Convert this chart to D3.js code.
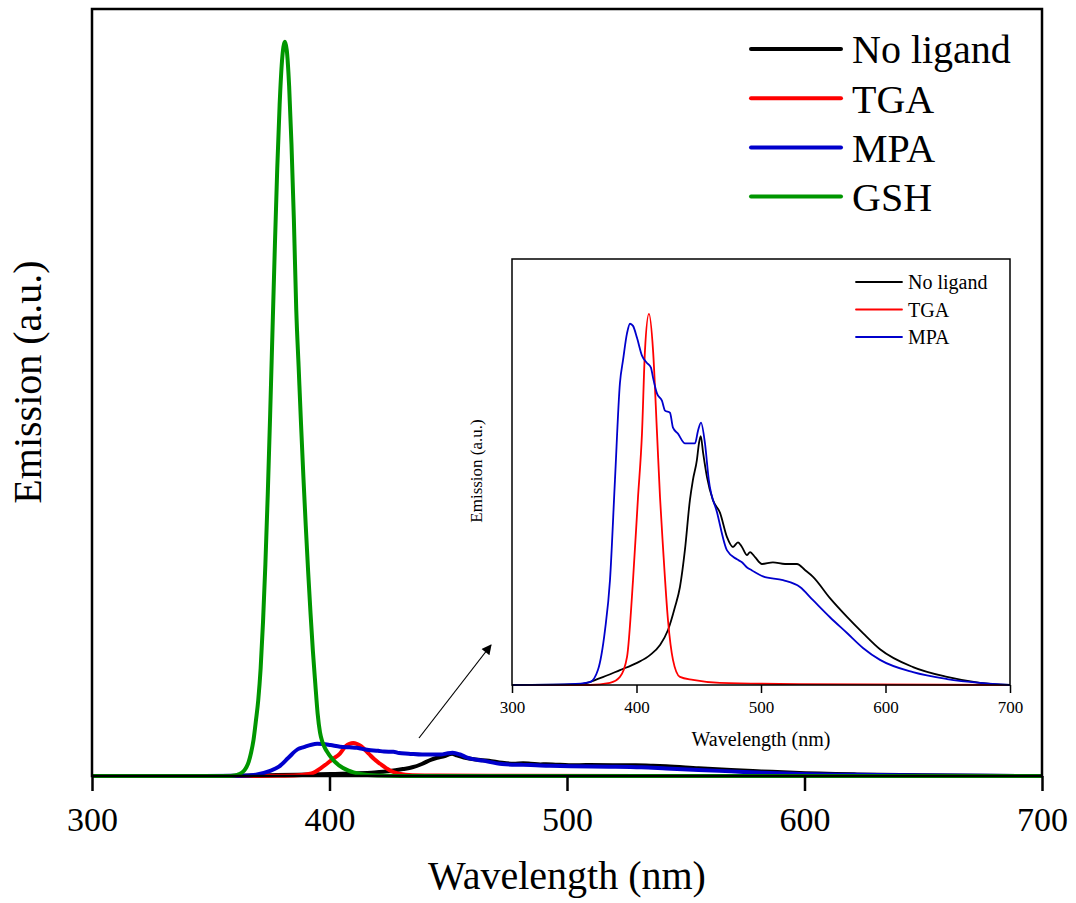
<!DOCTYPE html>
<html>
<head>
<meta charset="utf-8">
<script src="https://cdn.jsdelivr.net/npm/d3@7/dist/d3.min.js"></script>
<style>
  body { margin: 0; background: #fff; }
  svg { display: block; font-family: "Liberation Serif", "Times New Roman", serif; }
</style>
</head>
<body>
<svg id="chart" width="1076" height="903"></svg>
<script>
// emission spectra, wavelength (nm) / intensity (a.u.)
var wlNoLigand = [300, 354.6, 370.7, 386.7, 400.4, 410.8, 418.9, 425.3, 430.9, 434.9, 438.9, 442.9, 445.3, 448.5, 450.2, 451.6, 453.5, 456.6, 461.4, 467.1, 472.7, 477.5, 481.5, 484.7, 488.8, 491.2, 495.2, 500.8, 509.6, 519.3, 528.9, 535.3, 541.8, 555.4, 569.1, 581.9, 595.6, 622.1, 649.4, 675.9, 700];
var noLigand = [0, 2, 16, 35, 52, 70, 94, 129, 183, 230, 317, 434, 481, 528, 568, 584, 545, 488, 434, 404, 347, 324, 335, 324, 305, 312, 300, 284, 288, 284, 284, 270, 254, 204, 160, 122, 84, 42, 19, 5, 0];

var wlTGA = [300, 362.7, 378.7, 386.7, 392.4, 397.2, 401.2, 404.4, 406.8, 410, 413.3, 416.5, 418.9, 421.3, 425.3, 429.3, 434.9, 445.4, 467, 531.3, 700];
var tga = [0, 0, 5, 19, 66, 246, 440, 590, 785, 871, 785, 590, 440, 323, 152, 59, 19, 12, 5, 2, 0];

var wlMPA = [300, 346.6, 362.7, 369, 374.7, 378.7, 382.7, 386.7, 389.2, 392.4, 394.8, 397.2, 400.4, 404.4, 408.4, 411.6, 413.3, 416.5, 420.5, 422.9, 426.9, 429.3, 433.3, 439, 447, 449.4, 451.8, 455, 458, 464.7, 472.7, 480.7, 484.7, 488.8, 492.8, 501.6, 517.7, 531.3, 541.8, 555.4, 569.1, 581.9, 595.6, 622.1, 649.4, 675.9, 700];
var mpa = [0, 2, 7, 35, 129, 246, 481, 709, 763, 826, 848, 843, 815, 773, 756, 745, 721, 684, 667, 644, 639, 604, 590, 567, 567, 597, 616, 567, 483, 405, 316, 295, 288, 276, 269, 255, 246, 230, 199, 159, 122, 87, 59, 30, 14, 5, 0];

var wlGSH = [300, 357, 360, 362, 364, 365, 366, 367, 368, 369, 370, 371, 372, 373, 374, 375, 376, 377, 378, 379, 380, 381.2, 382, 383, 384, 385, 386, 387, 388, 389, 390, 391, 392, 393, 394, 395, 396, 397, 398, 399, 401, 404, 408, 413, 420, 430, 700];
var gsh = [0, 0, 15, 50, 140, 230, 380, 620, 950, 1450, 2000, 2830, 4050, 5580, 7420, 9510, 11750, 13980, 16030, 17700, 18860, 19365, 19150, 18200, 16650, 14670, 12300, 10800, 9300, 7900, 6600, 5400, 4300, 3300, 2450, 1650, 1150, 900, 750, 640, 460, 280, 140, 53, 10, 0, 0];

var xTicks = [300, 400, 500, 600, 700];
var names = ["No ligand", "TGA", "MPA", "GSH"];
var colors = ["#000000", "#ff0000", "#0000cc", "#009600"];

var series = [
  {name: names[0], color: colors[0], wl: wlNoLigand, v: noLigand},
  {name: names[1], color: colors[1], wl: wlTGA, v: tga},
  {name: names[2], color: colors[2], wl: wlMPA, v: mpa},
  {name: names[3], color: colors[3], wl: wlGSH, v: gsh}
];

var svg = d3.select("#chart");

function panel(opt) {
  var x = d3.scaleLinear().domain([300, 700]).range([opt.x0, opt.x1]);
  var y = d3.scaleLinear().domain([0, opt.ymax]).range([opt.y1, opt.y0]);
  var g = svg.append("g");
  var line = d3.line()
    .x(function(d) { return x(d[0]); })
    .y(function(d) { return y(d[1]); })
    .curve(d3.curveMonotoneX);

  opt.series.forEach(function(s) {
    var pts = s.wl.map(function(w, i) { return [w, s.v[i]]; });
    g.append("path").datum(pts)
      .attr("d", line)
      .attr("fill", "none")
      .attr("stroke", s.color)
      .attr("stroke-width", opt.lw)
      .attr("stroke-linejoin", "round");
  });

  // frame
  g.append("rect")
    .attr("x", opt.x0).attr("y", opt.y0)
    .attr("width", opt.x1 - opt.x0).attr("height", opt.y1 - opt.y0)
    .attr("fill", "none").attr("stroke", "#000").attr("stroke-width", opt.fw);

  var axis = d3.axisBottom(x).tickValues(xTicks).tickSize(opt.tick).tickSizeOuter(0).tickPadding(opt.pad);
  var ax = g.append("g").attr("transform", "translate(0," + opt.y1 + ")").call(axis);
  ax.select(".domain").remove();
  ax.selectAll(".tick line").attr("stroke-width", opt.fw);
  ax.selectAll(".tick text")
    .attr("font-family", "Liberation Serif, Times New Roman, serif")
    .attr("font-size", opt.tickFont).attr("fill", "#000");

  g.append("text")
    .attr("x", (opt.x0 + opt.x1) / 2).attr("y", opt.xTitleY)
    .attr("text-anchor", "middle").attr("font-size", opt.titleFont)
    .text("Wavelength (nm)");
  g.append("text")
    .attr("transform", "translate(" + opt.yTitleX + "," + opt.yTitleY + ") rotate(-90)")
    .attr("text-anchor", "middle").attr("font-size", opt.yTitleFont)
    .text("Emission (a.u.)");

  // legend
  var lg = g.append("g");
  opt.series.forEach(function(s, i) {
    var yy = opt.legY + i * opt.legStep;
    lg.append("line")
      .attr("x1", opt.legX).attr("x2", opt.legX + opt.legLen)
      .attr("y1", yy).attr("y2", yy)
      .attr("stroke", s.color).attr("stroke-width", opt.legLw).attr("stroke-linecap", "round");
    lg.append("text")
      .attr("x", opt.legX + opt.legLen + opt.legGap).attr("y", yy + opt.legFont * 0.36)
      .attr("font-size", opt.legFont)
      .text(s.name);
  });
}

// main plot
panel({
  series: series,
  x0: 92, x1: 1042, y0: 9, y1: 776, ymax: 20230,
  lw: 4, fw: 2.5, tick: 15, pad: 16, tickFont: 34,
  titleFont: 40, xTitleY: 889, yTitleFont: 40, yTitleX: 41, yTitleY: 382,
  legX: 751, legY: 49, legStep: 49.2, legLen: 90, legGap: 11, legFont: 40, legLw: 4
});

// inset
panel({
  series: series.slice(0, 3),
  x0: 512, x1: 1010, y0: 259, y1: 685, ymax: 1000,
  lw: 1.8, fw: 1.5, tick: 8, pad: 8, tickFont: 17,
  titleFont: 20, xTitleY: 746, yTitleFont: 17, yTitleX: 482, yTitleY: 471,
  legX: 856, legY: 282, legStep: 27.5, legLen: 46, legGap: 6, legFont: 20, legLw: 1.8
});

// arrow pointing to the inset
svg.append("defs").append("marker")
  .attr("id", "head").attr("viewBox", "0 0 10 10")
  .attr("refX", 9).attr("refY", 5)
  .attr("markerWidth", 14).attr("markerHeight", 10)
  .attr("markerUnits", "userSpaceOnUse")
  .attr("orient", "auto")
  .append("path").attr("d", "M0,0 L10,5 L0,10 Z").attr("fill", "#000");
svg.append("line")
  .attr("x1", 419).attr("y1", 738).attr("x2", 491).attr("y2", 645)
  .attr("stroke", "#000").attr("stroke-width", 1.2)
  .attr("marker-end", "url(#head)");
</script>
</body>
</html>
